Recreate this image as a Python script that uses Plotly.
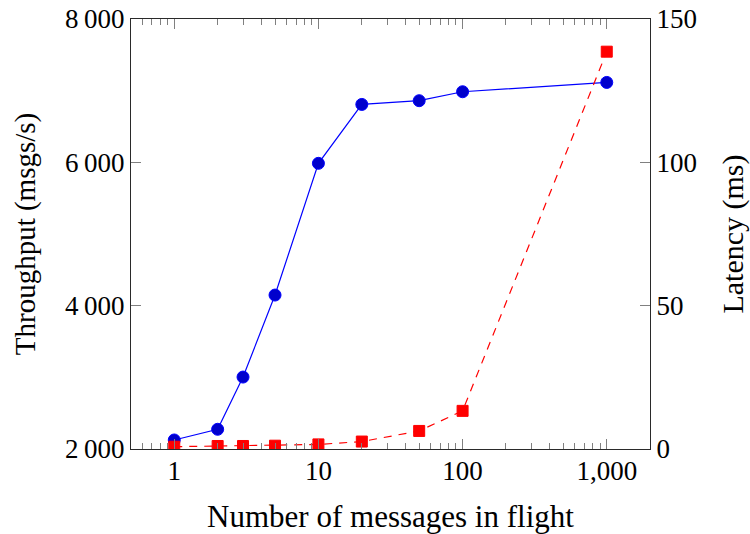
import plotly.graph_objects as go

inflight = [1, 2, 3, 5, 10, 20, 50, 100, 1000]
throughput = [2126, 2275, 3004, 4148, 5986, 6808, 6860, 6985, 7115]
latency = [0.8, 1.05, 1.05, 1.15, 1.6, 2.6, 6.3, 13.3, 138.6]

x_tickvals = [1, 10, 100, 1000]
x_ticktext = ["1", "10", "100", "1,000"]
y_tickvals = [2000, 4000, 6000, 8000]
y_ticktext = ["2\u2009000", "4\u2009000", "6\u2009000", "8\u2009000"]
y2_tickvals = [0, 50, 100, 150]
y2_ticktext = ["0", "50", "100", "150"]

minor_x = [m * 10 ** k for k in range(-1, 4) for m in range(2, 10) if 0.5 <= m * 10 ** k <= 2000]

FONT = "Liberation Serif"
AX = "#2a2a2a"
TICKC = "#808080"
XR = [-0.3, 3.3]

fig = go.Figure()
fig.add_trace(go.Scatter(
    x=inflight, y=throughput, mode="lines+markers", xaxis="x", yaxis="y",
    line=dict(color="#0000ff", width=1.2),
    marker=dict(symbol="circle", size=12, color="#0000cc", line=dict(color="#0000ff", width=1)),
    showlegend=False,
))
fig.add_trace(go.Scatter(
    x=inflight, y=latency, mode="lines+markers", xaxis="x", yaxis="y2",
    line=dict(color="#ff0000", width=1.2, dash="8px,7px"),
    marker=dict(symbol="square", size=11, color="#ff0000", line=dict(color="#ff0000", width=1)),
    showlegend=False,
))

fig.update_layout(
    width=750, height=534,
    margin=dict(l=131, r=100, t=19, b=85, autoexpand=False),
    paper_bgcolor="white", plot_bgcolor="white",
    font=dict(family=FONT, size=27, color="black"),
    xaxis=dict(
        type="log", range=XR, automargin=False,
        tickmode="array", tickvals=x_tickvals, ticktext=x_ticktext,
        ticks="inside", ticklen=10, tickwidth=1, tickcolor=TICKC,
        showline=True, linecolor=AX, linewidth=1.3, mirror="ticks",
        showgrid=False, zeroline=False, ticklabeloverflow="allow",
        title=dict(text="Number of messages in flight", font=dict(size=31), standoff=22),
        ticklabelstandoff=-3,
    ),
    xaxis2=dict(
        type="log", range=XR, overlaying="x", matches="x", automargin=False,
        tickmode="array", tickvals=minor_x, showticklabels=False,
        ticks="inside", ticklen=6, tickwidth=1, tickcolor=TICKC,
        showline=False, mirror="ticks",
        showgrid=False, zeroline=False,
    ),
    yaxis=dict(
        range=[2000, 8000], automargin=False,
        tickmode="array", tickvals=y_tickvals, ticktext=y_ticktext,
        ticks="inside", ticklen=10, tickwidth=1, tickcolor=TICKC,
        showline=True, linecolor=AX, linewidth=1.3, mirror=False,
        showgrid=False, zeroline=False, ticklabeloverflow="allow",
        title=dict(text="Throughput (msgs/s)", font=dict(size=29), standoff=20),
        ticklabelstandoff=0,
    ),
    yaxis2=dict(
        range=[0, 150], overlaying="y", side="right", automargin=False,
        tickmode="array", tickvals=y2_tickvals, ticktext=y2_ticktext,
        ticks="inside", ticklen=10, tickwidth=1, tickcolor=TICKC,
        showline=True, linecolor=AX, linewidth=1.3,
        showgrid=False, zeroline=False, ticklabeloverflow="allow",
        title=dict(text="Latency (ms)", font=dict(size=30), standoff=28),
        ticklabelstandoff=0,
    ),
)
# invisible helper trace so the minor-tick axis is rendered
fig.add_trace(go.Scatter(x=[inflight[0]], y=[throughput[0]], xaxis="x2", yaxis="y",
                         mode="markers", marker=dict(opacity=0), hoverinfo="skip", showlegend=False))

fig.write_html("out.html", config={"displayModeBar": False},
               post_script="document.body.style.margin='0';document.body.style.overflow='hidden';")
